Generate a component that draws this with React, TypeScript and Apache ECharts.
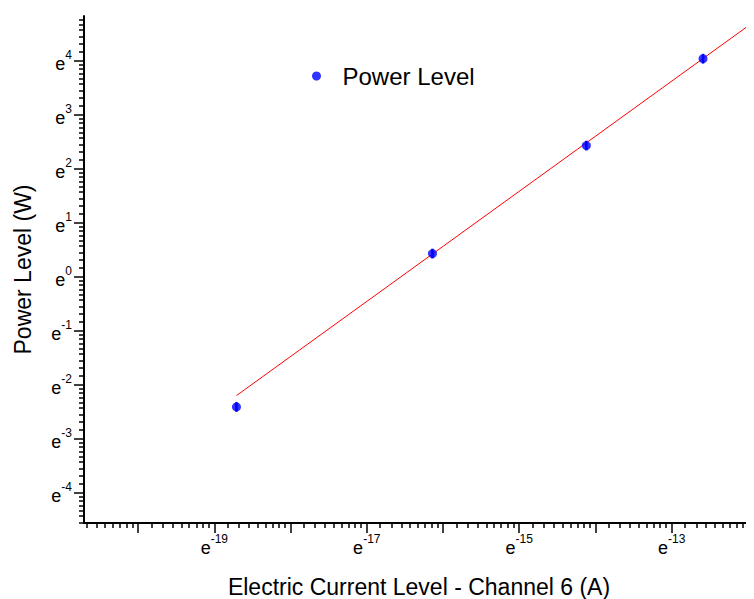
import React, { useEffect, useRef } from "react";
import * as echarts from "echarts";

// Measured data (natural units): current in A, power in W
const currentA = [7.49e-9, 9.8e-8, 7.38e-7, 3.41e-6];
const powerW = [0.0898, 1.537, 11.36, 56.8];
const powerErrLn = [0.09, 0.09, 0.09, 0.09];

// Fitted line endpoints (natural units)
const fitCurrentA = [7.49e-9, 1.01e-5];
const fitPowerW = [0.1108, 172.4];

// Axis exponents (base e)
const xMajorExp = [-20, -19, -18, -17, -16, -15, -14, -13, -12];
const xLabelExp = [-19, -17, -15, -13];
const yMajorExp = [-4, -3, -2, -1, 0, 1, 2, 3, 4];
const yLabelExp = [-4, -3, -2, -1, 0, 1, 2, 3, 4];

const X_MIN = -20.71;
const X_MAX = -11.92;
const Y_MIN = -4.56;
const Y_MAX = 4.83;

const FONT = "Liberation Sans, Arial, Helvetica, sans-serif";

function minorTicks(lo: number, hi: number): number[] {
  const out: number[] = [];
  for (let n = Math.floor(lo) - 1; n <= Math.ceil(hi); n++) {
    for (let k = 1; k <= 8; k++) {
      const v = n + Math.log(1 + (k * (Math.E - 1)) / 9);
      if (v > lo && v < hi) out.push(v);
    }
  }
  return out;
}

export default function App() {
  const ref = useRef<HTMLDivElement>(null);
  useEffect(() => {
    if (!ref.current) return;
    const chart = echarts.init(ref.current, undefined, { renderer: "svg" });
    const pts = currentA.map((c, i) => [Math.log(c), Math.log(powerW[i]), powerErrLn[i]]);
    const fit = fitCurrentA.map((c, i) => [Math.log(c), Math.log(fitPowerW[i])]);
    const labelRich = {
      b: { fontSize: 18, fontFamily: FONT, color: "#000", lineHeight: 24, verticalAlign: "bottom" },
      s: { fontSize: 12, fontFamily: FONT, color: "#000", lineHeight: 14, verticalAlign: "top" },
    };
    const fmt = (v: number) => `{b|e}{s|${Math.round(v)}}`;
    const option: any = {
      animation: false,
      grid: { left: 76, top: 8, right: 0, bottom: 76, containLabel: false, outerBoundsMode: "none" },
      legend: {
        data: [{ name: "Power Level", icon: "circle" }],
        left: 299,
        top: 51,
        itemWidth: 42,
        itemHeight: 9,
        textStyle: { fontSize: 24, fontFamily: FONT, color: "#000" },
      },
      xAxis: [
        {
          type: "value",
          min: X_MIN,
          max: X_MAX,
          position: "bottom",
          splitLine: { show: false },
          axisLine: { onZero: false, lineStyle: { color: "#000", width: 2 } },
          axisTick: { customValues: xMajorExp, length: 10, lineStyle: { color: "#000", width: 1.5 } },
          axisLabel: { customValues: xLabelExp, formatter: fmt, rich: labelRich, margin: 10 },
          name: "Electric Current Level - Channel 6 (A)",
          nameLocation: "middle",
          nameGap: 52,
          nameTextStyle: { fontSize: 23, fontFamily: FONT, color: "#000" },
        },
        {
          type: "value",
          min: X_MIN,
          max: X_MAX,
          position: "bottom",
          offset: 0,
          gridIndex: 0,
          splitLine: { show: false },
          axisLine: { show: false, onZero: false },
          axisLabel: { show: false },
          axisTick: { customValues: minorTicks(X_MIN, X_MAX), length: 5, lineStyle: { color: "#000", width: 1.5 } },
        },
      ],
      yAxis: [
        {
          type: "value",
          min: Y_MIN,
          max: Y_MAX,
          position: "left",
          splitLine: { show: false },
          axisLine: { onZero: false, lineStyle: { color: "#000", width: 2 } },
          axisTick: { customValues: yMajorExp, length: 10, lineStyle: { color: "#000", width: 1.5 } },
          axisLabel: { customValues: yLabelExp, formatter: fmt, rich: labelRich, margin: 12 },
          name: "Power Level (W)",
          nameLocation: "middle",
          nameGap: 50,
          nameTextStyle: { fontSize: 23, fontFamily: FONT, color: "#000" },
        },
        {
          type: "value",
          min: Y_MIN,
          max: Y_MAX,
          position: "left",
          offset: 0,
          gridIndex: 0,
          splitLine: { show: false },
          axisLine: { show: false, onZero: false },
          axisLabel: { show: false },
          axisTick: { customValues: minorTicks(Y_MIN, Y_MAX), length: 5, lineStyle: { color: "#000", width: 1.5 } },
        },
      ],
      series: [
        {
          name: "Fit",
          type: "line",
          data: fit,
          symbol: "none",
          lineStyle: { color: "#ff0000", width: 1 },
          z: 2,
        },
        {
          name: "ErrorBars",
          type: "custom",
          data: pts,
          z: 3,
          renderItem: (params: any, api: any) => {
            const x = api.value(0);
            const y = api.value(1);
            const e = api.value(2);
            const p1 = api.coord([x, y - e]);
            const p2 = api.coord([x, y + e]);
            return {
              type: "line",
              shape: { x1: p1[0], y1: p1[1], x2: p2[0], y2: p2[1] },
              style: { stroke: "#0000ff", lineWidth: 2.5 },
            };
          },
        },
        {
          name: "Power Level",
          type: "scatter",
          data: pts.map((p) => [p[0], p[1]]),
          symbol: "circle",
          symbolSize: 9,
          itemStyle: { color: "#0000ff" },
          z: 4,
        },
      ],
    };
    chart.setOption(option);
    return () => chart.dispose();
  }, []);
  return <div ref={ref} style={{ width: 746, height: 591 }} />;
}
